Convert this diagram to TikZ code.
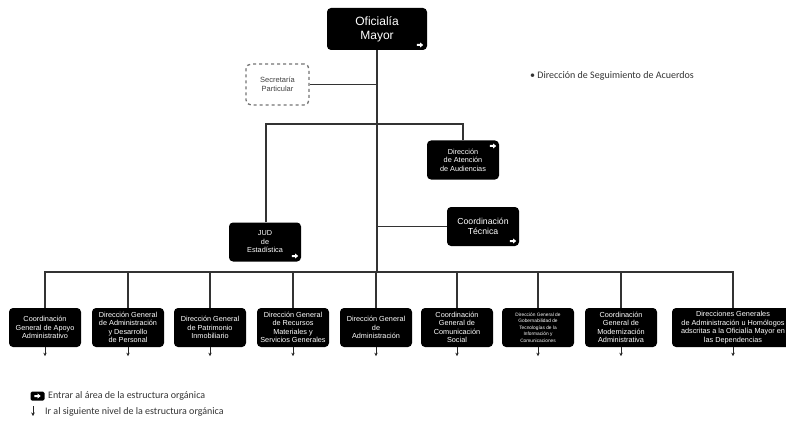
\documentclass[tikz,border=0pt]{standalone}
\usepackage{fontspec}
\setmainfont{Liberation Sans}
\newfontfamily\legfont{Carlito}
\usetikzlibrary{arrows.meta}
\tikzset{
  blk/.style={fill=black, rounded corners=4pt, text=white, align=center, inner sep=1pt,
    minimum width=72pt, minimum height=39pt, font=\fontsize{7.3}{8.5}\selectfont},
  wire/.style={draw=black!80, line width=1.1pt},
  warr/.pic={\fill[white] (-3.2,-1)--(0,-1)--(0,-2.6)--(3.2,0)--(0,2.6)--(0,1)--(-3.2,1)--cycle;},
  down/.style={draw=black!85, line width=1pt, -{Stealth[length=3.5pt,width=3.5pt]}},
  legtext/.style={anchor=west, font=\legfont\fontsize{10}{11}\selectfont, text=black!80, inner sep=0pt},
}
\begin{document}
\begin{tikzpicture}[x=1pt,y=-1pt]
\useasboundingbox (0,0) rectangle (786,422);
% top
\node[blk, minimum width=100pt, minimum height=42pt, font=\fontsize{12}{14}\selectfont] (om) at (377,29) {Oficialía\\Mayor};
\pic at (420,45) {warr};
\node[draw=black!55, dashed, line width=1.3pt, rounded corners=5pt, minimum width=63pt, minimum height=41pt, align=center, text=black!75, font=\fontsize{7.5}{9}\selectfont] (sp) at (277.5,84.5) {Secretaría\\Particular};
\node[legtext] (dsa) at (530,76) {\textbullet\ Dirección de Seguimiento de Acuerdos};
% second level
\node[blk] (daa) at (463,160) {Dirección\\de Atención\\de Audiencias};
\pic at (493,146) {warr};
\node[blk, font=\fontsize{8.7}{10.5}\selectfont] (ct) at (483,226.5) {Coordinación\\Técnica};
\pic at (513,241) {warr};
\node[blk] (jud) at (265,242) {JUD\\de\\Estadística};
\pic at (295,256) {warr};
% bottom boxes
\node[blk] (b1) at (45,327.5) {Coordinación\\General de Apoyo\\Administrativo};
\node[blk] (b2) at (128,327.5) {Dirección General\\de Administración\\y Desarrollo\\de Personal};
\node[blk] (b3) at (210,327.5) {Dirección General\\de Patrimonio\\Inmobiliario};
\node[blk] (b4) at (293,327.5) {Dirección General\\de Recursos\\Materiales y\\Servicios Generales};
\node[blk] (b5) at (376,327.5) {Dirección General\\de\\Administración};
\node[blk] (b6) at (457,327.5) {Coordinación\\General de\\Comunicación\\Social};
\node[blk, font=\fontsize{4.8}{6.6}\selectfont] (b7) at (538,327.5) {Dirección General de\\Gobernabilidad de\\Tecnologías de la\\Información y\\Comunicaciones};
\node[blk] (b8) at (621,327.5) {Coordinación\\General de\\Modernización\\Administrativa};
\node[blk, minimum width=122pt] (b9) at (733,327.5) {Direcciones Generales\\de Administración u Homólogos\\adscritas a la Oficialía Mayor en\\las Dependencias};
% connectors
\coordinate (t1) at (377,84.5);
\coordinate (t2) at (377,124);
\coordinate (t3) at (377,226.5);
\coordinate (t4) at (377,272);
\draw[wire] (om.south) -- (t4);
\draw[wire] (sp.east) -- (t1);
\draw[wire] (jud.north -| 266,0) |- (t2) -| (daa.north);
\draw[wire] (t3) -- (ct.west);
\draw[wire] (b1.north) |- (t4);
\draw[wire] (t4) -| (b9.north);
\foreach \b in {b2,b3,b4,b5,b6,b7,b8}{\draw[wire] (\b.north) -- (\b.north |- t4);}
\foreach \b in {b1,b2,b3,b4,b5,b6,b7,b8,b9}{\draw[down] (\b.south) -- ++(0,9);}
% legend
\node[fill=black, rounded corners=1.5pt, minimum width=14pt, minimum height=9pt, inner sep=0pt] (li) at (37.5,396) {};
\pic at (37.5,396) {warr};
\node[legtext] (l1) at (48,396) {Entrar al área de la estructura orgánica};
\coordinate (la) at (33,406);
\coordinate (lb) at (33,416);
\draw[down] (la) -- (lb);
\node[legtext] (l2) at (45,411.5) {Ir al siguiente nivel de la estructura orgánica};
\end{tikzpicture}
\end{document}
